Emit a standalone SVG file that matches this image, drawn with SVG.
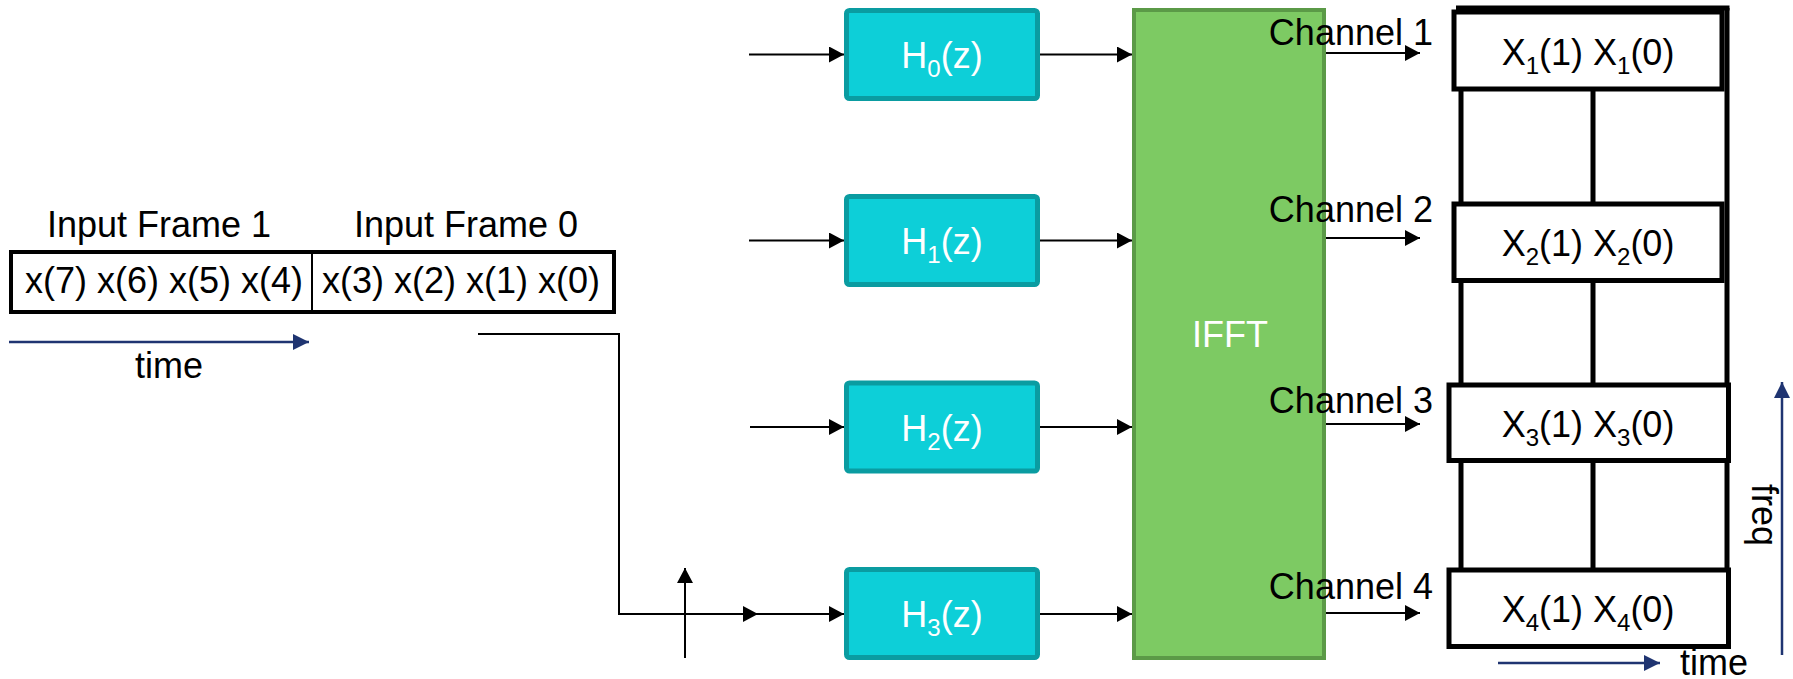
<svg xmlns="http://www.w3.org/2000/svg" width="1793" height="679" viewBox="0 0 1793 679">
<style>
text{font-family:"Liberation Sans",Arial,sans-serif;font-size:36px;fill:#000}
.wt{fill:#fff}
.sub{font-size:24px}
.filt{fill:#0dcfd8;stroke:#0a9ca1;stroke-width:5}
.ifft{fill:#7dca63;stroke:#5b9a47;stroke-width:4}
.cell{fill:#fff;stroke:#000;stroke-width:5}
.grid{stroke:#000;stroke-width:5;fill:none}
.conn{stroke:#000;stroke-width:2;fill:none}
.nav{stroke:#1f3471;stroke-width:2.5;fill:none}
.frame{fill:#fff;stroke:#000;stroke-width:4}
</style>
<defs>
<marker id="ah" markerUnits="userSpaceOnUse" markerWidth="15" markerHeight="16" refX="15" refY="8" orient="auto"><path d="M0,0 L15,8 L0,16 z" fill="#000"/></marker>
<marker id="an" markerUnits="userSpaceOnUse" markerWidth="16" markerHeight="16" refX="16" refY="8" orient="auto"><path d="M0,0 L16,8 L0,16 z" fill="#1f3471"/></marker>
</defs>

<g id="input-frames">
<text x="159" y="237" text-anchor="middle">Input Frame 1</text>
<text x="466" y="237" text-anchor="middle">Input Frame 0</text>
<rect class="frame" x="11" y="252" width="603" height="60"/>
<line x1="312" y1="252" x2="312" y2="312" stroke="#000" stroke-width="2"/>
<text x="164" y="293" text-anchor="middle">x(7) x(6) x(5) x(4)</text>
<text x="461" y="293" text-anchor="middle">x(3) x(2) x(1) x(0)</text>
<line class="nav" x1="9" y1="342" x2="309" y2="342" marker-end="url(#an)"/>
<text x="169" y="378" text-anchor="middle">time</text>
</g>

<g id="h0">
<rect class="filt" x="846.5" y="10.5" width="191" height="88" rx="3"/>
<text class="wt" x="942" y="68" text-anchor="middle">H<tspan class="sub" dy="9">0</tspan><tspan dy="-9">(z)</tspan></text>
</g>
<g id="h1">
<rect class="filt" x="846.5" y="196.5" width="191" height="88" rx="3"/>
<text class="wt" x="942" y="254" text-anchor="middle">H<tspan class="sub" dy="9">1</tspan><tspan dy="-9">(z)</tspan></text>
</g>
<g id="h2">
<rect class="filt" x="846.5" y="383" width="191" height="88" rx="3"/>
<text class="wt" x="942" y="440.5" text-anchor="middle">H<tspan class="sub" dy="9">2</tspan><tspan dy="-9">(z)</tspan></text>
</g>
<g id="h3">
<rect class="filt" x="846.5" y="569.5" width="191" height="88" rx="3"/>
<text class="wt" x="942" y="627" text-anchor="middle">H<tspan class="sub" dy="9">3</tspan><tspan dy="-9">(z)</tspan></text>
</g>

<g id="ifft">
<rect class="ifft" x="1134" y="10" width="190" height="648"/>
<text class="wt" x="1230" y="347" text-anchor="middle">IFFT</text>
</g>

<g id="output-grid">
<line class="grid" x1="1461" y1="10" x2="1461" y2="645"/>
<line class="grid" x1="1593" y1="10" x2="1593" y2="645"/>
<line class="grid" x1="1727" y1="8" x2="1727" y2="645"/>
<line class="grid" x1="1456" y1="8" x2="1729.5" y2="8"/>
<g id="row1"><rect class="cell" x="1454" y="12" width="268" height="77"/>
<text x="1588" y="65" text-anchor="middle">X<tspan class="sub" dy="9">1</tspan><tspan dy="-9">(1) X</tspan><tspan class="sub" dy="9">1</tspan><tspan dy="-9">(0)</tspan></text></g>
<g id="row2"><rect class="cell" x="1454" y="204" width="268" height="76.5"/>
<text x="1588" y="255.5" text-anchor="middle">X<tspan class="sub" dy="9">2</tspan><tspan dy="-9">(1) X</tspan><tspan class="sub" dy="9">2</tspan><tspan dy="-9">(0)</tspan></text></g>
<g id="row3"><rect class="cell" x="1449" y="385" width="279.5" height="75.5"/>
<text x="1588" y="436.5" text-anchor="middle">X<tspan class="sub" dy="9">3</tspan><tspan dy="-9">(1) X</tspan><tspan class="sub" dy="9">3</tspan><tspan dy="-9">(0)</tspan></text></g>
<g id="row4"><rect class="cell" x="1449" y="570" width="279.5" height="76.5"/>
<text x="1588" y="621.5" text-anchor="middle">X<tspan class="sub" dy="9">4</tspan><tspan dy="-9">(1) X</tspan><tspan class="sub" dy="9">4</tspan><tspan dy="-9">(0)</tspan></text></g>
</g>

<g id="axes">
<line class="nav" x1="1498" y1="663" x2="1660" y2="663" marker-end="url(#an)"/>
<text x="1680" y="675">time</text>
<line class="nav" x1="1782" y1="655" x2="1782" y2="382" marker-end="url(#an)"/>
<text transform="translate(1752,515) rotate(90)" text-anchor="middle">freq</text>
</g>

<g id="connectors">
<line class="conn" x1="749" y1="54.5" x2="844" y2="54.5" marker-end="url(#ah)"/>
<line class="conn" x1="749" y1="240.5" x2="844" y2="240.5" marker-end="url(#ah)"/>
<line class="conn" x1="750" y1="427" x2="844" y2="427" marker-end="url(#ah)"/>
<polyline class="conn" points="478,334 619,334 619,614 758,614" marker-end="url(#ah)"/>
<line class="conn" x1="758" y1="614" x2="844" y2="614" marker-end="url(#ah)"/>
<line class="conn" x1="685" y1="658" x2="685" y2="568" marker-end="url(#ah)"/>
<line class="conn" x1="1040" y1="54.5" x2="1132" y2="54.5" marker-end="url(#ah)"/>
<line class="conn" x1="1040" y1="240.5" x2="1132" y2="240.5" marker-end="url(#ah)"/>
<line class="conn" x1="1040" y1="427" x2="1132" y2="427" marker-end="url(#ah)"/>
<line class="conn" x1="1040" y1="614" x2="1132" y2="614" marker-end="url(#ah)"/>
<line class="conn" x1="1326" y1="53" x2="1420" y2="53" marker-end="url(#ah)"/>
<line class="conn" x1="1326" y1="238" x2="1420" y2="238" marker-end="url(#ah)"/>
<line class="conn" x1="1326" y1="424" x2="1420" y2="424" marker-end="url(#ah)"/>
<line class="conn" x1="1326" y1="613" x2="1420" y2="613" marker-end="url(#ah)"/>
</g>

<g id="channel-labels">
<text x="1433" y="45" text-anchor="end">Channel 1</text>
<text x="1433" y="222" text-anchor="end">Channel 2</text>
<text x="1433" y="413" text-anchor="end">Channel 3</text>
<text x="1433" y="599" text-anchor="end">Channel 4</text>
</g>
</svg>
